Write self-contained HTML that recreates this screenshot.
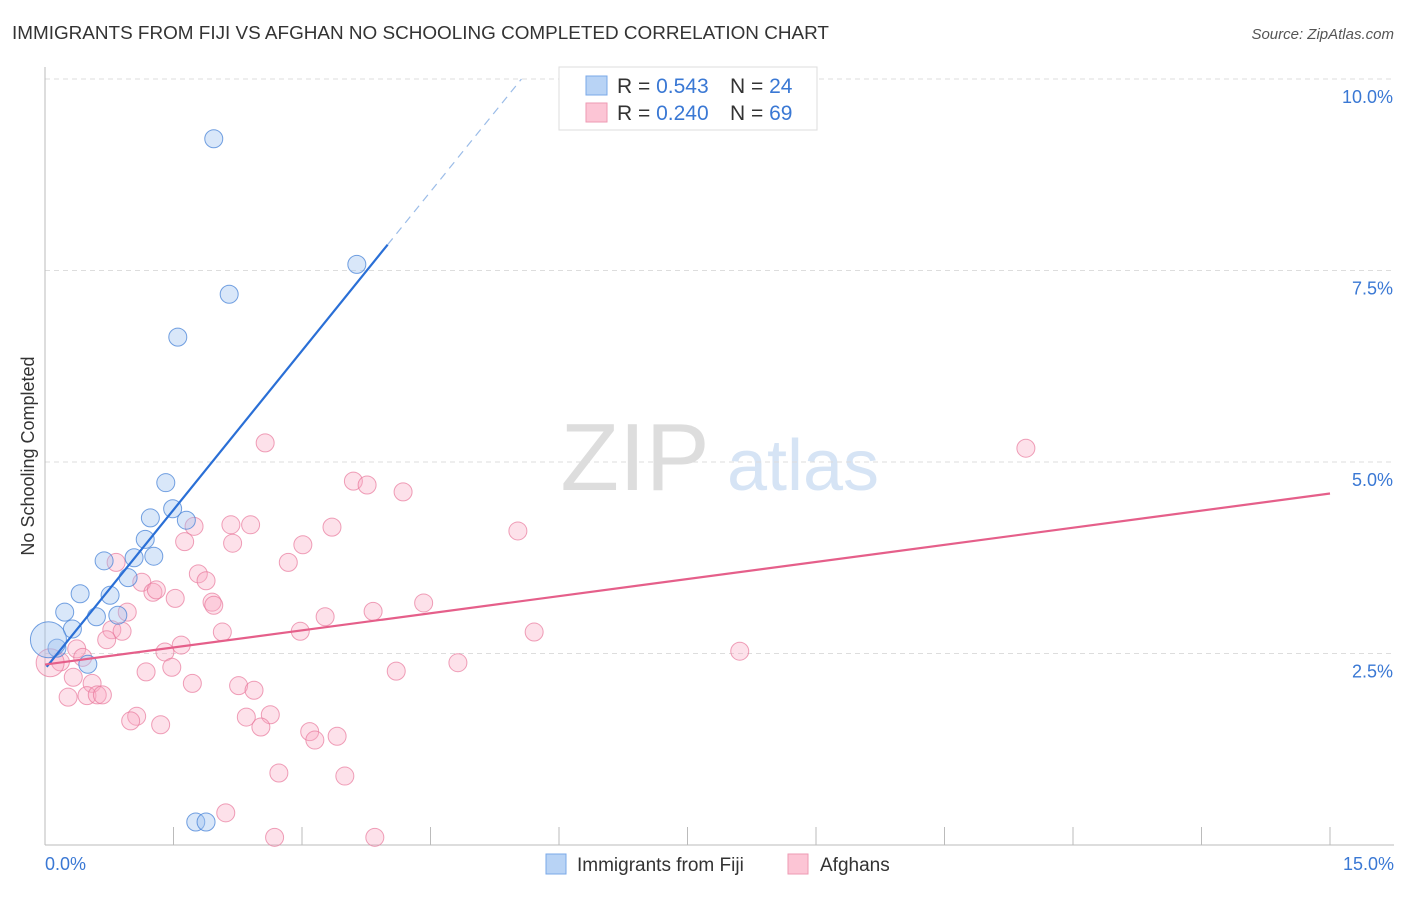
<!DOCTYPE html>
<html><head><meta charset="utf-8"><style>
body{margin:0;background:#fff;font-family:"Liberation Sans",sans-serif;}
svg text{font-family:"Liberation Sans",sans-serif;}
</style></head><body>
<svg id="chart" width="1406" height="892">
<text x="12" y="39" font-size="18.9" fill="#333">IMMIGRANTS FROM FIJI VS AFGHAN NO SCHOOLING COMPLETED CORRELATION CHART</text>
<text x="1394" y="39" font-size="15" fill="#555" font-style="italic" text-anchor="end">Source: ZipAtlas.com</text>
<g>
<text x="635" y="490" font-size="96" fill="#ddd" font-family="Liberation Serif,serif" text-anchor="middle">ZIP</text>
<text x="803" y="490" font-size="72" fill="#d6e4f5" text-anchor="middle">atlas</text>
</g>
<g id="grid"></g>
<g id="axes"></g>
<g id="marks"></g>
<text transform="translate(34,456) rotate(-90)" font-size="18" fill="#333" text-anchor="middle">No Schooling Completed</text>
<g>
<rect x="559" y="67" width="258" height="63" fill="#fff" stroke="#ddd"/>
<rect x="586" y="76" width="21" height="19" fill="#b8d3f5" stroke="#7aa8e8"/>
<rect x="586" y="103" width="21" height="19" fill="#fcc5d5" stroke="#ee9ab3"/>
<text x="617" y="93" font-size="21" fill="#333">R = <tspan fill="#3a78d4">0.543</tspan></text>
<text x="730" y="93" font-size="21" fill="#333">N = <tspan fill="#3a78d4">24</tspan></text>
<text x="617" y="120" font-size="21" fill="#333">R = <tspan fill="#3a78d4">0.240</tspan></text>
<text x="730" y="120" font-size="21" fill="#333">N = <tspan fill="#3a78d4">69</tspan></text>
</g>
<g>
<rect x="546" y="854" width="20" height="20" fill="#b8d3f5" stroke="#7aa8e8"/>
<text x="577" y="871" font-size="19" fill="#333">Immigrants from Fiji</text>
<rect x="788" y="854" width="20" height="20" fill="#fcc5d5" stroke="#ee9ab3"/>
<text x="820" y="871" font-size="19" fill="#333">Afghans</text>
</g>
</svg>
<script>
const fijiX=[1.97,3.64,2.15,1.55,1.41,1.49,1.23,1.65,1.17,1.27,0.69,1.04,0.97,0.41,0.76,0.23,0.60,0.85,0.32,0.14,0.50,1.76,1.88,0.04];
const fijiY=[9.22,7.58,7.19,6.63,4.73,4.39,4.27,4.24,3.99,3.77,3.71,3.75,3.49,3.28,3.26,3.04,2.98,3.00,2.82,2.57,2.36,0.30,0.30,2.68];
const afgX=[2.57,3.60,3.76,4.18,1.74,2.17,2.40,3.35,1.63,2.19,3.01,0.83,2.84,1.79,1.88,1.13,1.26,1.30,1.52,1.95,1.97,0.96,3.83,4.42,3.27,0.78,0.90,0.72,2.07,2.98,1.59,1.40,0.37,0.44,0.18,0.06,1.18,1.48,4.10,0.33,1.72,0.55,2.26,2.44,0.27,0.49,0.61,0.67,1.07,1.00,1.35,2.35,2.63,2.52,3.09,3.15,3.41,2.73,3.50,2.11,2.68,3.85,11.45,5.52,5.71,8.11,4.82];
const afgY=[5.25,4.75,4.70,4.61,4.16,4.18,4.18,4.15,3.96,3.94,3.92,3.69,3.69,3.54,3.45,3.43,3.30,3.33,3.22,3.17,3.13,3.04,3.05,3.16,2.98,2.81,2.79,2.68,2.78,2.79,2.61,2.52,2.56,2.45,2.39,2.38,2.26,2.32,2.27,2.19,2.11,2.11,2.08,2.02,1.93,1.95,1.96,1.96,1.68,1.62,1.57,1.67,1.70,1.54,1.48,1.37,1.42,0.94,0.90,0.42,0.10,0.10,5.18,4.10,2.78,2.53,2.38];
const yTicks=[2.5,5,7.5,10];
const yTickLabels=["2.5%","5.0%","7.5%","10.0%"];
const xTicks=[0,1.5,3,4.5,6,7.5,9,10.5,12,13.5,15];
const xEndLabels=["0.0%","15.0%"];

const NS="http://www.w3.org/2000/svg";
const X0=45,X1=1330,Y0=845,Y1=79;
const sx=v=>X0+(v/15)*(X1-X0);
const sy=v=>Y0-(v/10)*(Y0-Y1);
function mk(tag,attrs,parent){const e=document.createElementNS(NS,tag);for(const k in attrs)e.setAttribute(k,attrs[k]);document.getElementById(parent).appendChild(e);return e;}

yTicks.forEach((t,i)=>{
  const l=mk('line',{x1:X0,x2:1394,y1:sy(t),y2:sy(t),stroke:'#ddd','stroke-dasharray':'5,4'},'grid');
  
  
  const tx=mk('text',{x:1393,y:sy(t)+24,'font-size':18,fill:'#3a78d4','text-anchor':'end'},'axes');
  tx.textContent=yTickLabels[i];
  
  
});
const ya=mk('line',{x1:X0,x2:X0,y1:67,y2:Y0,stroke:'#bbb'},'axes');


const xa=mk('line',{x1:X0,x2:1394,y1:Y0,y2:Y0,stroke:'#bbb'},'axes');


xTicks.forEach(t=>{
  const l=mk('line',{x1:sx(t),x2:sx(t),y1:Y0,y2:Y0-18,stroke:'#bbb'},'axes');
  
  
});
const xl0=mk('text',{x:45,y:870,'font-size':18,fill:'#3a78d4'},'axes');xl0.textContent=xEndLabels[0];


const xl1=mk('text',{x:1394,y:870,'font-size':18,fill:'#3a78d4','text-anchor':'end'},'axes');xl1.textContent=xEndLabels[1];



function fit(xs,ys){const n=xs.length;let mx=0,my=0;for(let i=0;i<n;i++){mx+=xs[i];my+=ys[i];}mx/=n;my/=n;let sxy=0,sxx=0;for(let i=0;i<n;i++){sxy+=(xs[i]-mx)*(ys[i]-my);sxx+=(xs[i]-mx)**2;}const b=sxy/sxx;return [my-b*mx,b];}

afgX.forEach((x,i)=>{
  const big=i===35;
  const c=mk('circle',{cx:sx(x),cy:sy(afgY[i]),r:big?14:9,fill:'rgba(248,170,195,0.35)',stroke:'rgba(232,120,155,0.7)','stroke-width':1},'marks');
  
  
});
fijiX.forEach((x,i)=>{
  const big=i===23;
  const c=mk('circle',{cx:sx(x),cy:sy(fijiY[i]),r:big?18:9,fill:'rgba(160,195,240,0.4)',stroke:'rgba(70,130,215,0.75)','stroke-width':1},'marks');
  
  
});
const [fa,fb]=fit(fijiX,fijiY);
const solidEnd=Math.max(...fijiX)+0.36;
const fl=mk('line',{x1:sx(0.02),y1:sy(fa+fb*0.02),x2:sx(solidEnd),y2:sy(fa+fb*solidEnd),stroke:'#2a6fd6','stroke-width':2.2},'marks');


const topX=(10-fa)/fb;
const fd=mk('line',{x1:sx(solidEnd),y1:sy(fa+fb*solidEnd),x2:sx(topX),y2:sy(10),stroke:'#9bbce8','stroke-width':1.2,'stroke-dasharray':'8,6'},'marks');


const [aa,ab]=fit(afgX,afgY);
const al=mk('line',{x1:sx(0),y1:sy(aa),x2:sx(15),y2:sy(aa+ab*15),stroke:'#e55f8a','stroke-width':2.2},'marks');


</script>
</body></html>
